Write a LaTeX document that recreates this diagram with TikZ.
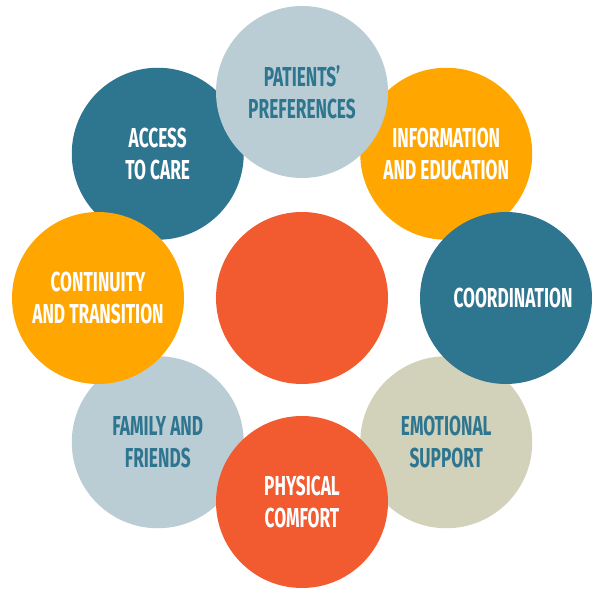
\documentclass[tikz,border=0pt]{standalone}
\usepackage{fontspec}
\setmainfont{Fira Sans}[FakeStretch=0.63]
\usetikzlibrary{calc}

\definecolor{capteal}{HTML}{2E758F}
\definecolor{capgray}{HTML}{BBCDD4}
\definecolor{caporange}{HTML}{FFA700}
\definecolor{capred}{HTML}{F25A30}
\definecolor{capbeige}{HTML}{D2D2BB}

\begin{document}
\begin{tikzpicture}[
		bubble/.style={circle,minimum size=4.3cm,inner sep=0pt,align=center,
			font=\bfseries\fontsize{19.5}{23}\selectfont},
		dark/.style={bubble,fill=#1,text=white},
		light/.style={bubble,fill=#1,text=capteal}]
	\useasboundingbox (0,0) rectangle (15,15);
	\coordinate (c) at (7.55,7.55);
	\node[dark=capred] (hub) at (c) {};
	% lower layer
	\node[dark=capteal] (access) at ($(c)+(135:5.1)$) {ACCESS\\TO CARE};
	\node[dark=caporange] (info) at ($(c)+(45:5.1)$) {INFORMATION\\AND EDUCATION};
	\node[light=capbeige] (emotion) at ($(c)+(-45:5.1)$) {EMOTIONAL\\SUPPORT};
	\node[light=capgray] (family) at ($(c)+(-135:5.1)$) {FAMILY AND\\FRIENDS};
	% upper layer
	\node[dark=capteal] (coord) at ($(c)+(0:5.1)$) {\hspace*{0.35cm}COORDINATION};
	\node[dark=capred] (comfort) at ($(c)+(-90:5.1)$) {PHYSICAL\\COMFORT};
	\node[dark=caporange] (cont) at ($(c)+(180:5.1)$) {CONTINUITY\\AND TRANSITION};
	\node[light=capgray] (prefs) at ($(c)+(90:5.15)$) {PATIENTS’\\PREFERENCES};
\end{tikzpicture}
\end{document}
